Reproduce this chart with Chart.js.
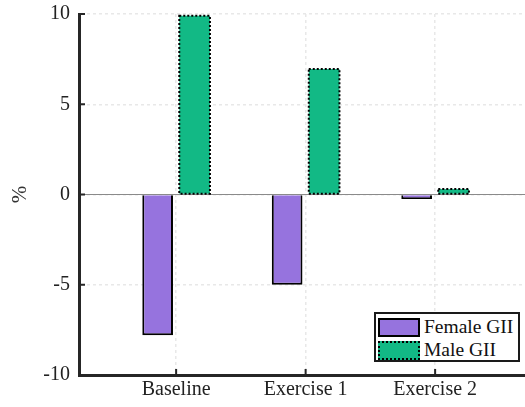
<!DOCTYPE html>
<html>
<head>
<meta charset="utf-8">
<script src="https://cdn.jsdelivr.net/npm/chart.js@4.4.1/dist/chart.umd.min.js"></script>
<style>
  body { margin: 0; background: #fff; }
  #wrap { position: relative; width: 525px; height: 407px; }
  #legend {
    position: absolute; left: 374px; top: 312px; width: 142px; height: 46px;
    border: 2.5px solid #1a1a1a; background: #fff;
    font-family: "Liberation Serif", "DejaVu Serif", serif; font-size: 19.5px; color: #111;
  }
  .item { position: absolute; left: 2px; display: flex; align-items: center; white-space: nowrap; }
  .sw { width: 38px; height: 15px; margin-right: 4px; }
</style>
</head>
<body>
<div id="wrap">
  <canvas id="myChart" width="525" height="407"></canvas>
  <div id="legend"></div>
</div>
<script>
// MALE / FEMALE GII CHANGE
const categories = ["Baseline", "Exercise 1", "Exercise 2"];
const femaleGII = [-7.8, -5.0, -0.25];
const maleGII = [9.9, 6.95, 0.3];
const yTicks = [-10, -5, 0, 5, 10];
const seriesNames = ["Female GII", "Male GII"];

const femaleColor = "#9673de";
const maleColor = "#12b985";
const axisColor = "#262626";
const serif = "'Liberation Serif', 'DejaVu Serif', serif";

// zero line behind the bars
const zeroLine = {
    id: "zeroLine",
    beforeDatasetsDraw(chart) {
        const { ctx, chartArea, scales } = chart;
        const y0 = scales.y.getPixelForValue(0);
        ctx.save();
        ctx.strokeStyle = "#8a8a8a";
        ctx.lineWidth = 1;
        ctx.beginPath();
        ctx.moveTo(chartArea.left, y0);
        ctx.lineTo(chartArea.right, y0);
        ctx.stroke();
        ctx.restore();
    }
};

// dotted outline for the male bars, inward tick marks
const extras = {
    id: "extras",
    afterDatasetsDraw(chart) {
        const ctx = chart.ctx;
        const meta = chart.getDatasetMeta(1);
        ctx.save();
        ctx.strokeStyle = "#000";
        ctx.lineWidth = 2;
        ctx.setLineDash([2, 2]);
        meta.data.forEach(bar => {
            const p = bar.getProps(["x", "y", "base", "width"], true);
            const top = Math.min(p.y, p.base), h = Math.abs(p.base - p.y);
            ctx.strokeRect(p.x - p.width / 2, top, p.width, h);
        });
        ctx.restore();
    },
    afterDraw(chart) {
        const { ctx, chartArea, scales } = chart;
        ctx.save();
        ctx.strokeStyle = axisColor;
        ctx.lineWidth = 2;
        ctx.beginPath();
        yTicks.forEach(v => {
            const py = scales.y.getPixelForValue(v);
            ctx.moveTo(chartArea.left, py);
            ctx.lineTo(chartArea.left + 6, py);
        });
        categories.forEach((c, i) => {
            const px = scales.x.getPixelForValue(i + 1);
            ctx.moveTo(px, chartArea.bottom);
            ctx.lineTo(px, chartArea.bottom - 6);
        });
        ctx.stroke();
        ctx.restore();
    }
};

const ctx = document.getElementById("myChart").getContext("2d");
new Chart(ctx, {
    type: "bar",
    data: {
        datasets: [{
            label: seriesNames[0],
            data: femaleGII.map((v, i) => ({ x: i + 1, y: v })),
            backgroundColor: femaleColor,
            borderColor: "#000",
            borderWidth: 2
        }, {
            label: seriesNames[1],
            data: maleGII.map((v, i) => ({ x: i + 1, y: v })),
            backgroundColor: maleColor,
            borderWidth: 0
        }]
    },
    options: {
        responsive: false,
        animation: false,
        categoryPercentage: 0.571,
        barPercentage: 0.83,
        layout: { padding: { top: 14, right: 0, bottom: 0, left: 0 } },
        plugins: { legend: { display: false }, tooltip: { enabled: false } },
        scales: {
            x: {
                type: "linear",
                min: 0.25,
                max: 3.694,
                offset: false,
                afterBuildTicks: s => { s.ticks = categories.map((c, i) => ({ value: i + 1 })); },
                afterFit: s => { s.height = 32; s.paddingRight = 0; },
                ticks: {
                    callback: v => categories[v - 1],
                    font: { family: serif, size: 20 },
                    color: "#222",
                    padding: 3,
                    maxRotation: 0
                },
                grid: { color: "#e8e8e8", drawTicks: false, offset: false, lineWidth: 1.5 },
                border: { color: axisColor, width: 3, dash: [3, 3] }
            },
            y: {
                min: -10,
                max: 10,
                afterBuildTicks: s => { s.ticks = yTicks.map(v => ({ value: v })); },
                afterFit: s => { s.width = 79; s.paddingTop = 0; s.paddingBottom = 0; },
                ticks: {
                    font: { family: serif, size: 20 },
                    color: "#222",
                    padding: 9
                },
                title: {
                    display: true,
                    text: "%",
                    font: { family: serif, size: 21 },
                    color: "#333",
                    padding: { top: 8, bottom: 0 }
                },
                grid: { color: "#e8e8e8", drawTicks: false, lineWidth: 1.5 },
                border: { color: axisColor, width: 3, dash: [3, 3] }
            }
        }
    },
    plugins: [zeroLine, extras]
});

// legend box
const legend = document.getElementById("legend");
[[femaleColor, "2.5px solid #000"], [maleColor, "2.5px dotted #000"]].forEach((s, i) => {
    const row = document.createElement("div");
    row.className = "item";
    row.style.top = (i === 0 ? 2 : 25) + "px";
    const sw = document.createElement("div");
    sw.className = "sw";
    sw.style.background = s[0];
    sw.style.border = s[1];
    const label = document.createElement("span");
    label.textContent = seriesNames[i];
    row.appendChild(sw);
    row.appendChild(label);
    legend.appendChild(row);
});
</script>
</body>
</html>
